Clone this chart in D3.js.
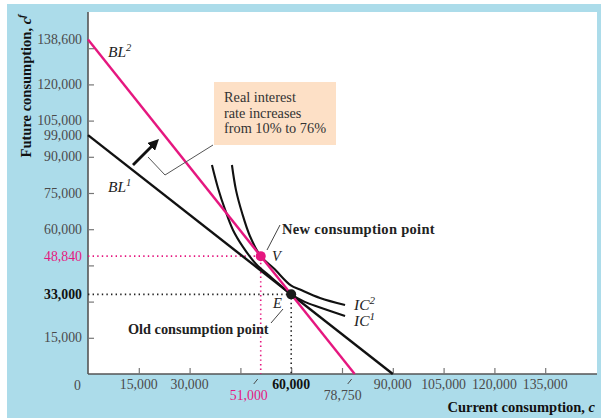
<!DOCTYPE html>
<html><head><meta charset="utf-8">
<script src="https://cdn.jsdelivr.net/npm/d3@7"></script>
<style>
html,body{margin:0;padding:0;background:#fff;}
svg{display:block;font-family:"Liberation Serif","DejaVu Serif",serif;}
</style></head>
<body>
<svg id="c" width="601" height="418"></svg>
<script>
// ---- data ----
const yTicks = [15000,30000,45000,60000,75000,90000,105000,120000,135000];
const yLabels = [
  {v:138600,t:"138,600",k:"n"},{v:120000,t:"120,000",k:"n"},{v:105000,t:"105,000",k:"n"},
  {v:99000,t:"99,000",k:"n"},{v:90000,t:"90,000",k:"n"},{v:75000,t:"75,000",k:"n"},
  {v:60000,t:"60,000",k:"n"},{v:48840,t:"48,840",k:"p"},{v:33000,t:"33,000",k:"b"},{v:15000,t:"15,000",k:"n"}
];
const xTicks = [15000,30000,45000,60000,75000,90000,105000,120000,135000];
const xLabels = [
  {v:15000,t:"15,000",k:"n"},{v:30000,t:"30,000",k:"n"},{v:60000,t:"60,000",k:"b"},
  {v:90000,t:"90,000",k:"n"},{v:105000,t:"105,000",k:"n"},{v:120000,t:"120,000",k:"n"},{v:135000,t:"135,000",k:"n"}
];
const xExtra = [{v:51000,t:"51,000",k:"p"},{v:78750,t:"78,750",k:"n"}];
const BL1 = [[0,99000],[90000,0]];
const BL2 = [[0,138600],[78750,0]];
const IC1 = [[36600,86600],[38400,77000],[40500,68000],[42800,59700],[45800,52600],[49600,45600],[54300,39800],[60000,33000],[64000,29900],[68500,27600],[75900,24000]];
const IC2 = [[42500,86600],[43700,76200],[45500,66700],[47800,57200],[51000,48840],[54900,43700],[59900,36700],[62600,35000],[68500,31500],[75900,28600]];
const V = [51000,48840];
const E = [60000,33000];

// ---- drawing ----
const PINK = "#e5177f", GRAY = "#4a4a4a", BLUE = "#acdcea";
const svg = d3.select("#c");
const x = d3.scaleLinear().domain([0,150000]).range([88,596]);
const y = d3.scaleLinear().domain([0,150000]).range([374,12]);

svg.append("rect").attr("x",7).attr("y",4).attr("width",594).attr("height",414).attr("fill",BLUE);
svg.append("rect").attr("x",88).attr("y",12).attr("width",509).attr("height",362).attr("fill","#fff");

// axes with inward ticks
const ax = svg.append("g").attr("transform","translate(0,374)")
  .call(d3.axisBottom(x).tickValues(xTicks).tickSizeInner(-6).tickSizeOuter(0).tickFormat(""));
const ay = svg.append("g").attr("transform","translate(88,0)")
  .call(d3.axisLeft(y).tickValues(yTicks).tickSizeInner(-6).tickSizeOuter(0).tickFormat(""));
[ax,ay].forEach(g=>{
  g.select(".domain").attr("stroke","#555").attr("stroke-width",1.6);
  g.selectAll(".tick line").attr("stroke","#777").attr("stroke-width",1.2);
});
ax.select(".domain").attr("d","M88,0H597");
ay.select(".domain").attr("d","M0,12V374");

const col = k => k==="p"?PINK:(k==="b"?"#111":GRAY);
svg.append("g").selectAll("text").data(yLabels).join("text")
  .attr("x",82).attr("y",d=>y(d.v)+4.5).attr("text-anchor","end")
  .attr("font-size",13.8).attr("fill",d=>col(d.k)).attr("font-weight",d=>d.k==="b"?"bold":"normal")
  .text(d=>d.t);
svg.append("text").attr("x",81).attr("y",390).attr("text-anchor","end").attr("font-size",13.8).attr("fill",GRAY).text("0");
svg.append("g").selectAll("text").data(xLabels).join("text")
  .attr("x",d=>x(d.v)).attr("y",389).attr("text-anchor","middle")
  .attr("font-size",13.8).attr("fill",d=>col(d.k)).attr("font-weight",d=>d.k==="b"?"bold":"normal")
  .text(d=>d.t);
svg.append("g").selectAll("text").data(xExtra).join("text")
  .attr("x",d=>x(d.v)-12).attr("y",400).attr("text-anchor","middle")
  .attr("font-size",13.8).attr("fill",d=>col(d.k)).text(d=>d.t);
svg.append("g").selectAll("line").data(xExtra).join("line")
  .attr("x1",d=>x(d.v)-7).attr("y1",384).attr("x2",d=>x(d.v)-3).attr("y2",379)
  .attr("stroke",GRAY).attr("stroke-width",1);

// axis titles
svg.append("text").attr("x",595).attr("y",412).attr("text-anchor","end")
  .attr("font-size",14.5).attr("font-weight","bold").attr("fill","#111")
  .html('Current consumption, <tspan font-style="italic">c</tspan>');
svg.append("text").attr("transform","translate(31,86) rotate(-90)").attr("text-anchor","middle")
  .attr("font-size",14.5).attr("font-weight","bold").attr("fill","#111")
  .html('Future consumption, <tspan font-style="italic">c</tspan><tspan font-style="italic" font-size="10" dy="-6">f</tspan>');

// dotted guides
const dot = (pts,c)=>svg.append("path").attr("d",d3.line()(pts)).attr("fill","none")
  .attr("stroke",c).attr("stroke-width",1.6).attr("stroke-dasharray","1.4,3.2");
dot([[x(0),y(V[1])],[x(V[0]),y(V[1])],[x(V[0]),y(0)]],PINK);
dot([[x(0),y(E[1])],[x(E[0]),y(E[1])],[x(E[0]),y(0)]],"#222");

// budget lines
const lin = d3.line().x(d=>x(d[0])).y(d=>y(d[1]));
svg.append("path").attr("d",lin(BL1)).attr("stroke","#111").attr("stroke-width",2.4).attr("fill","none");
const crv = d3.line().x(d=>x(d[0])).y(d=>y(d[1])).curve(d3.curveCatmullRom.alpha(0.5));
svg.append("path").attr("d",crv(IC1)).attr("stroke","#111").attr("stroke-width",2.1).attr("fill","none");
svg.append("path").attr("d",crv(IC2)).attr("stroke","#111").attr("stroke-width",2.1).attr("fill","none");
svg.append("path").attr("d",lin(BL2)).attr("stroke",PINK).attr("stroke-width",2.4).attr("fill","none");

// points
svg.append("circle").attr("cx",x(V[0])).attr("cy",y(V[1])).attr("r",5).attr("fill",PINK);
svg.append("circle").attr("cx",x(E[0])).attr("cy",y(E[1])).attr("r",5).attr("fill","#1a1a1a");

// labels
const lab = (tx,ty,html,fs)=>svg.append("text").attr("x",tx).attr("y",ty).attr("font-size",fs||15.5)
  .attr("font-style","italic").attr("fill","#222").html(html);
lab(108,57,'BL<tspan font-size="10.5" dy="-6">2</tspan>');
lab(108,192,'BL<tspan font-size="10.5" dy="-6">1</tspan>');
lab(354,310,'IC<tspan font-size="11" dy="-6">2</tspan>');
lab(354,326,'IC<tspan font-size="11" dy="-6">1</tspan>');
lab(272,261,'V',14.5);
lab(273,308,'E',14.5);

svg.append("text").attr("x",282).attr("y",234).attr("font-size",14.5).attr("letter-spacing",0.3).attr("font-weight","bold").attr("fill","#222").text("New consumption point");
svg.append("text").attr("x",128).attr("y",334).attr("font-size",14.3).attr("font-weight","bold").attr("fill","#222").text("Old consumption point");
svg.append("line").attr("x1",280).attr("y1",225).attr("x2",267).attr("y2",250).attr("stroke","#444").attr("stroke-width",1);
svg.append("line").attr("x1",283).attr("y1",309).attr("x2",271).attr("y2",323).attr("stroke","#444").attr("stroke-width",1);

// annotation box
svg.append("rect").attr("x",214).attr("y",82).attr("width",122).attr("height",63).attr("fill","#fde0c6");
const note = ["Real interest","rate increases","from 10% to 76%"];
svg.append("g").selectAll("text").data(note).join("text")
  .attr("x",224).attr("y",(d,i)=>102+i*15.5).attr("font-size",14.3).attr("fill","#333").text(d=>d);
svg.append("path").attr("d","M148,157L165,175L213,145").attr("fill","none").attr("stroke","#555").attr("stroke-width",1);

// arrow
svg.append("defs").append("marker").attr("id","ah").attr("viewBox","0 0 10 10").attr("refX",5).attr("refY",5)
  .attr("markerWidth",4).attr("markerHeight",4).attr("orient","auto")
  .append("path").attr("d","M0,0L10,5L0,10z").attr("fill","#111");
svg.append("line").attr("x1",133).attr("y1",165).attr("x2",155).attr("y2",143)
  .attr("stroke","#111").attr("stroke-width",2.8).attr("marker-end","url(#ah)");
</script>
</body></html>
